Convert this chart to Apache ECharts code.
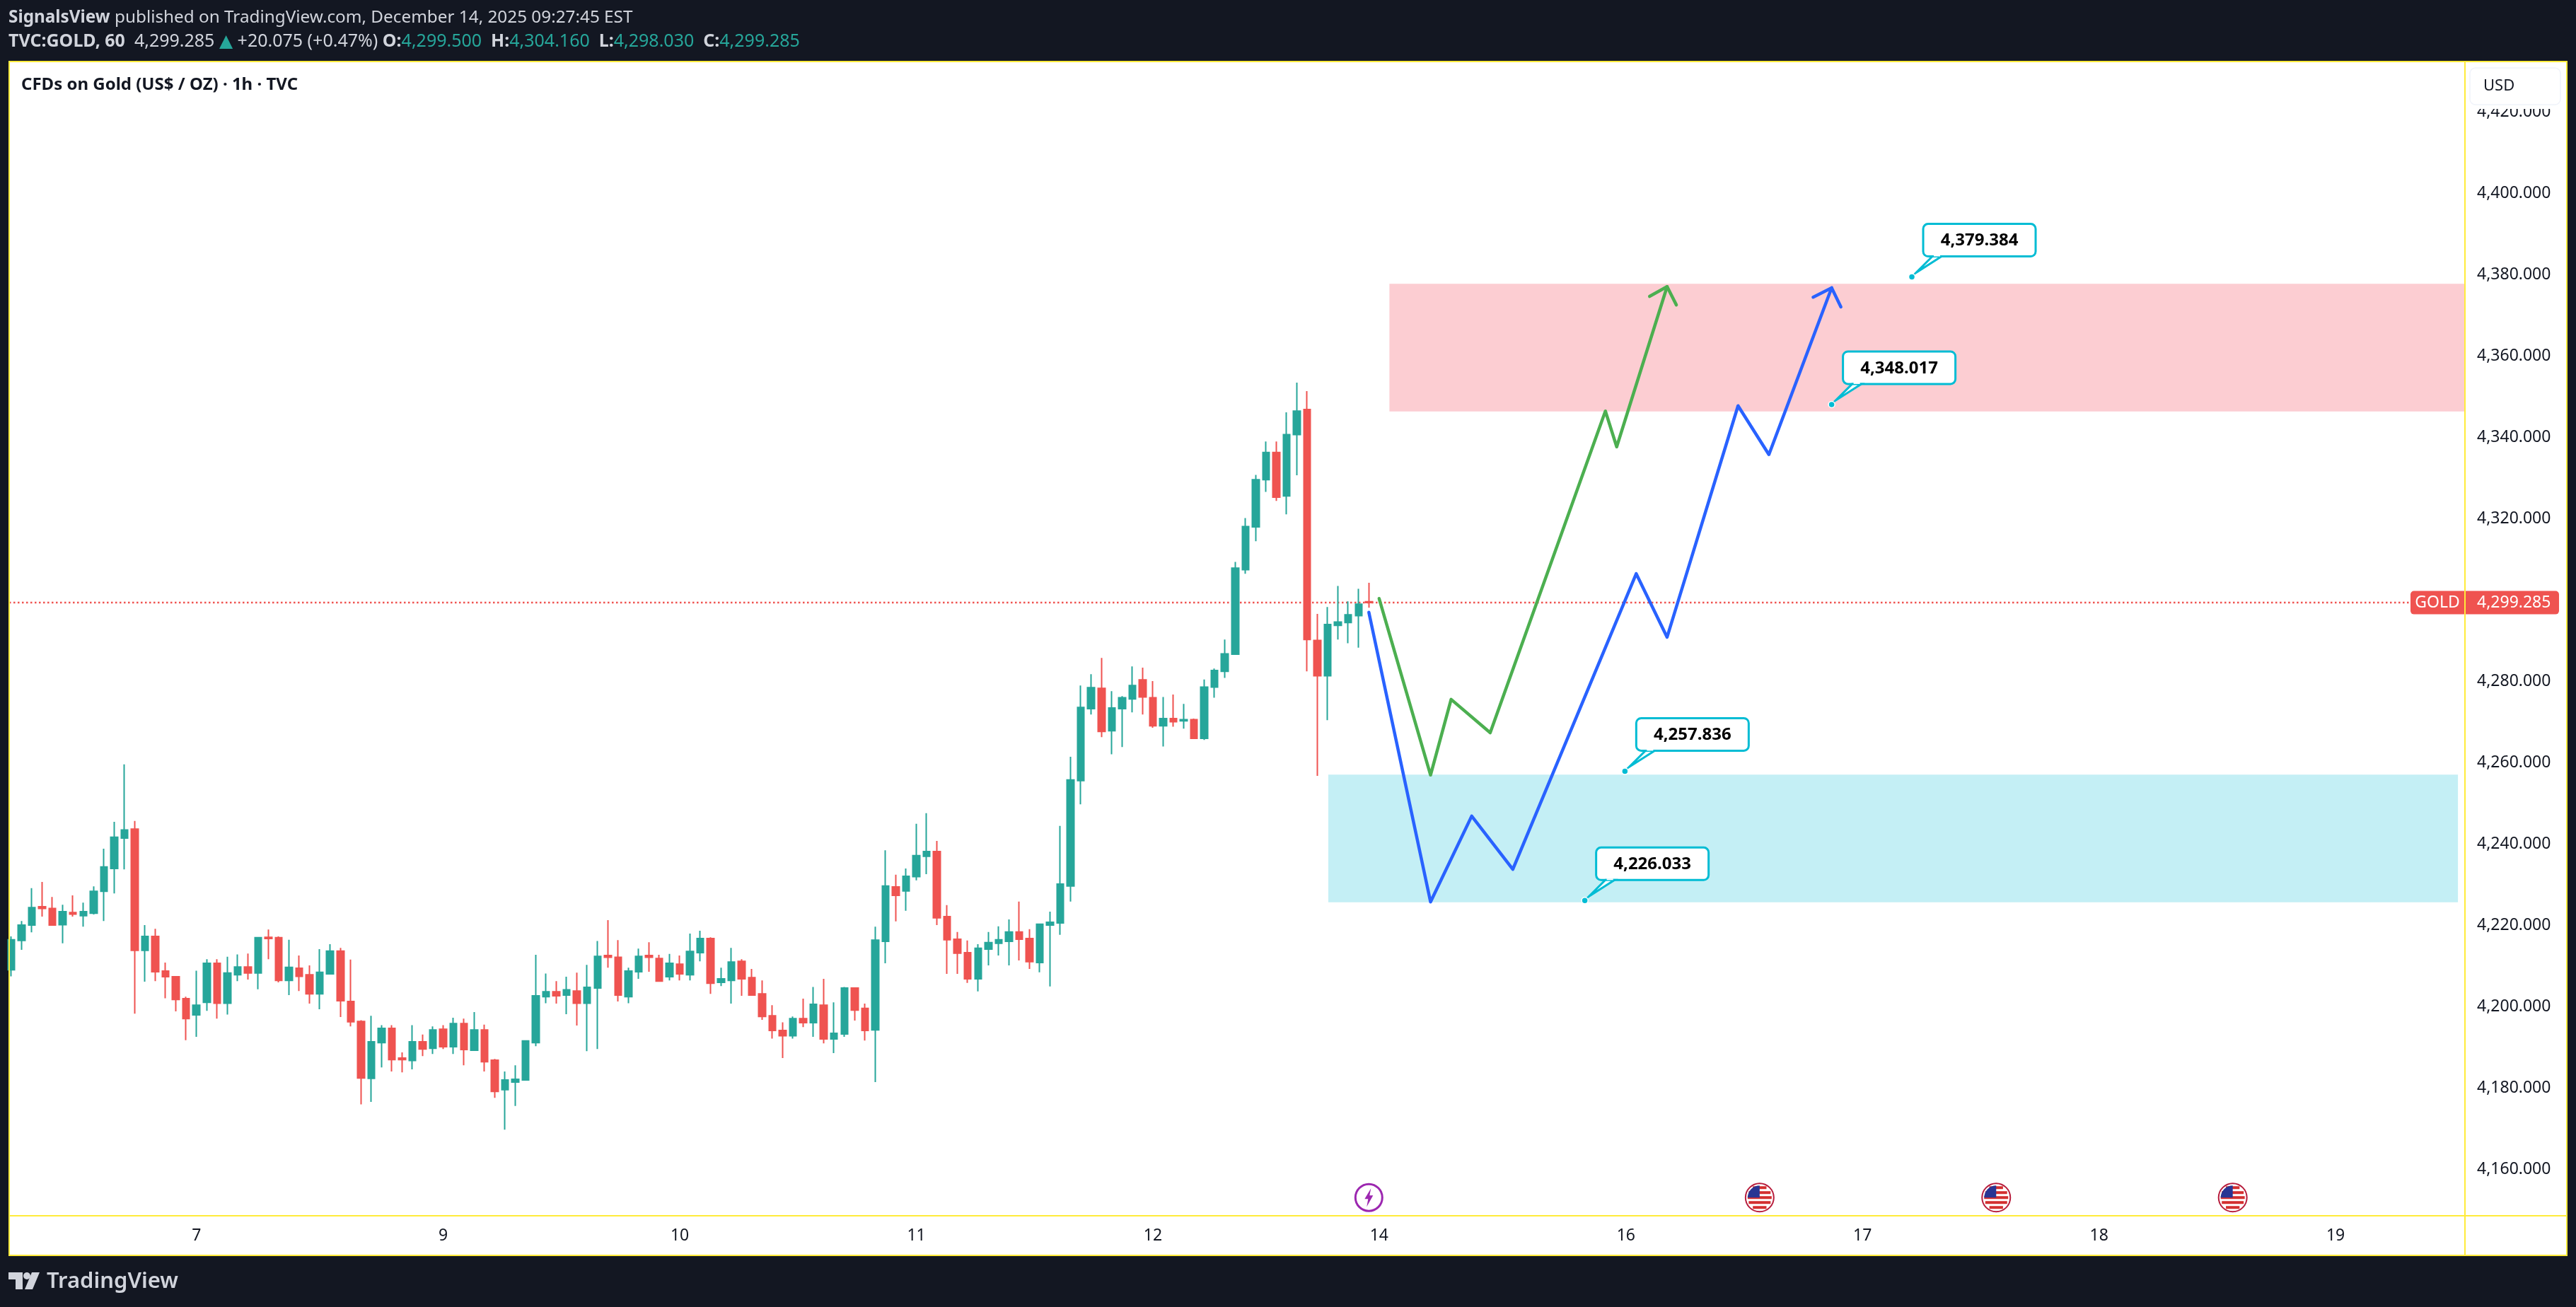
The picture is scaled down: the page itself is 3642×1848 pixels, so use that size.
<!DOCTYPE html>
<html>
<head>
<meta charset="utf-8">
<title>GOLD 1h</title>
<style>
html, body { margin: 0; padding: 0; background: #131722; }
#chart { width: 3642px; height: 1848px; }
</style>
<script src="https://cdn.jsdelivr.net/npm/echarts@6/dist/echarts.min.js"></script>
</head>
<body>
<div id="chart"></div>
<script>
// candles, left to right, one per hour
var opens = [4209.0,4216.2,4220.0,4224.5,4224.1,4220.1,4223.1,4222.3,4222.9,4228.3,4233.9,4241.4,4243.6,4213.8,4217.2,4208.7,4207.3,4201.9,4197.9,4201.0,
    4210.6,4200.8,4207.8,4209.7,4208.2,4217.0,4216.9,4206.4,4209.4,4207.8,4203.1,4208.0,4213.6,4201.2,4196.3,4182.3,4191.1,4194.6,4187.3,4186.7,
    4191.3,4189.7,4194.4,4190.1,4195.8,4189.2,4194.2,4186.8,4179.5,4181.4,4181.9,4191.1,4202.4,4203.6,4202.8,4203.8,4200.8,4204.5,4212.5,4212.1,
    4202.4,4208.5,4212.5,4211.8,4207.3,4210.4,4207.8,4213.2,4216.7,4205.9,4206.4,4211.1,4207.1,4203.1,4197.7,4194.1,4192.8,4197.0,4196.0,4200.3,
    4192.0,4193.2,4204.5,4199.5,4194.2,4216.0,4229.4,4228.4,4231.9,4236.9,4238.1,4222.1,4216.5,4213.2,4206.8,4214.1,4215.5,4216.0,4218.3,4216.7,
    4210.8,4220.0,4220.5,4229.6,4255.5,4273.2,4278.2,4267.8,4273.2,4275.6,4280.3,4275.9,4269.0,4270.8,4270.2,4270.5,4265.9,4278.5,4282.4,4286.6,
    4307.4,4317.9,4329.5,4336.2,4325.5,4340.6,4346.8,4290.0,4281.3,4293.7,4294.4,4296.1,4299.5];
var highs = [4217.2,4221.0,4229.1,4230.6,4226.9,4225.0,4227.3,4225.5,4229.5,4238.8,4245.4,4259.5,4245.6,4220.0,4219.1,4210.8,4207.4,4202.4,4208.8,4211.6,
    4211.6,4212.2,4212.8,4213.0,4216.9,4218.9,4217.2,4216.4,4212.5,4210.1,4214.1,4215.3,4214.4,4211.5,4196.6,4197.7,4195.4,4195.4,4188.7,4195.4,
    4193.1,4195.1,4195.4,4197.2,4197.0,4198.6,4195.5,4187.1,4184.0,4185.5,4191.6,4212.7,4208.1,4206.2,4207.3,4208.3,4210.2,4216.1,4221.2,4216.3,
    4209.5,4214.2,4215.8,4212.7,4212.9,4212.5,4217.9,4218.6,4217.0,4209.5,4214.4,4211.6,4209.2,4206.4,4200.3,4196.1,4197.5,4201.9,4204.8,4206.8,
    4201.0,4204.8,4204.7,4200.7,4219.6,4238.4,4232.4,4233.9,4244.9,4247.5,4240.7,4224.9,4218.3,4216.2,4215.3,4218.3,4219.7,4221.4,4225.8,4219.0,
    4220.4,4223.3,4244.4,4261.4,4278.9,4281.7,4285.7,4277.5,4276.3,4283.6,4283.3,4280.0,4276.1,4276.7,4274.4,4270.8,4280.4,4283.1,4290.2,4309.3,
    4320.1,4330.7,4338.9,4338.9,4346.1,4353.4,4351.3,4296.5,4298.2,4303.4,4299.6,4302.7,4304.16];
var lows = [4207.4,4213.9,4218.2,4222.1,4220.0,4215.5,4222.1,4219.6,4222.6,4221.0,4227.8,4233.7,4198.2,4206.1,4206.2,4202.0,4198.8,4191.7,4192.5,4198.9,
    4197.0,4198.0,4206.2,4206.6,4204.2,4211.6,4205.9,4202.8,4203.8,4200.7,4199.3,4208.0,4197.4,4195.1,4175.9,4176.5,4185.0,4184.0,4183.8,4184.5,
    4187.8,4188.3,4189.5,4188.3,4185.5,4189.2,4184.0,4177.5,4169.7,4175.5,4181.9,4190.2,4200.8,4200.7,4198.1,4195.3,4189.0,4189.5,4209.5,4201.2,
    4200.8,4206.8,4208.5,4206.2,4206.4,4206.4,4206.4,4211.1,4203.1,4205.0,4200.7,4202.6,4202.8,4196.7,4192.1,4187.3,4192.1,4194.9,4192.5,4190.9,
    4188.5,4192.5,4196.5,4191.6,4181.4,4210.6,4220.9,4223.5,4231.0,4232.5,4220.0,4208.0,4208.0,4205.8,4203.7,4210.1,4212.5,4210.1,4211.3,4209.2,
    4208.4,4204.9,4217.6,4225.8,4249.7,4271.8,4266.2,4262.0,4263.8,4272.3,4271.8,4268.5,4263.9,4268.8,4268.3,4265.9,4265.5,4275.9,4280.8,4286.6,
    4306.4,4314.4,4326.5,4324.3,4321.0,4330.6,4282.4,4256.7,4270.4,4290.2,4289.3,4288.2,4298.03];
var closes = [4216.4,4220.0,4224.3,4224.1,4220.0,4223.3,4222.7,4223.3,4228.3,4234.3,4241.6,4243.4,4213.8,4217.2,4208.5,4207.3,4201.7,4197.0,4200.3,4210.6,
    4200.8,4208.2,4209.7,4208.2,4216.9,4216.7,4206.4,4209.6,4207.4,4203.1,4208.4,4213.6,4201.4,4196.2,4182.4,4191.3,4194.6,4186.9,4186.9,4191.3,
    4189.5,4194.2,4190.1,4195.8,4189.4,4194.2,4186.4,4179.1,4181.9,4182.1,4191.5,4202.6,4203.6,4202.6,4204.1,4200.8,4204.7,4212.3,4212.1,4202.8,
    4208.7,4212.3,4212.1,4206.2,4210.6,4208.0,4213.5,4216.7,4205.7,4206.8,4210.9,4206.8,4202.8,4197.5,4194.1,4192.8,4197.0,4196.0,4200.5,4192.0,
    4193.4,4204.5,4199.1,4194.1,4216.3,4229.6,4227.3,4232.0,4237.1,4238.1,4221.8,4216.4,4213.1,4206.8,4214.3,4215.7,4216.4,4218.3,4216.5,4211.0,
    4220.2,4220.7,4230.1,4255.7,4273.5,4278.4,4267.6,4273.4,4275.9,4278.9,4276.1,4269.0,4270.8,4270.0,4270.5,4265.9,4278.5,4282.6,4286.7,4307.8,
    4318.0,4329.5,4336.2,4325.2,4340.6,4346.4,4290.2,4281.3,4293.9,4294.5,4296.3,4298.9,4299.285];

// drawn scenarios: bar number and price of every corner
var greenX = [133.0,138.0,140.0,143.8,155.0,156.1,161.0];
var greenY = [4300.3,4256.9,4275.5,4267.3,4346.4,4337.6,4377.0];
var greenHeadX = [159.3,161.0,161.9];
var greenHeadY = [4374.6,4377.0,4372.5];
var blueX = [132.0,138.0,142.0,146.0,158.0,161.0,167.9,170.9,177.0];
var blueY = [4296.9,4225.7,4246.8,4233.7,4306.4,4290.8,4347.7,4335.7,4376.7];
var blueHeadX = [175.2,177.0,177.9];
var blueHeadY = [4374.4,4376.7,4372.0];

// zones: left bar, right bar, top price, bottom price
var sellZone = [134.0,238.58,4377.7,4346.3];
var buyZone = [128.06,237.9,4257.0,4225.6];

var calloutX = [184.8,177.0,156.9,153.0];
var calloutY = [4379.384,4348.017,4257.836,4226.033];
var calloutText = ['4,379.384','4,348.017','4,257.836','4,226.033'];

var lastPrice = 4299.285;
var lastPriceText = '4,299.285';

var priceTicks = [4160,4180,4200,4220,4240,4260,4280,4300,4320,4340,4360,4380,4400,4420];
var dayTicks = [18,42,65,88,111,133,157,180,203,226];
var dayLabels = ['7','9','10','11','12','14','16','17','18','19'];

var eventX = [132,170,193,216];
var eventKind = ['split','us','us','us'];
var eventY = 4153;

var xMin = -0.206, xMax = 238.58;
var yMin = 4148.52, yMax = 4432;

var FONT = '"Noto Sans", sans-serif';
var INK = '#131722';
var YELLOW = '#ffeb3b';
var UP = '#26a69a';
var DOWN = '#ef5350';
var CYAN = '#00bcd4';

function zip(a, b) {
    var out = [];
    for (var i = 0; i < a.length; i++) out.push([a[i], b[i]]);
    return out;
}

var candleData = [];
for (var i = 0; i < opens.length; i++) {
    candleData.push([i, opens[i], closes[i], lows[i], highs[i]]);
}

function polyLine(name, data, color, z) {
    return {
        name: name,
        type: 'line',
        data: data,
        symbol: 'none',
        z: z,
        silent: true,
        animation: false,
        lineStyle: { color: color, width: 4.5, cap: 'round', join: 'round' }
    };
}

function renderZone(params, api) {
    var a = api.coord([api.value(0), api.value(2)]);
    var b = api.coord([api.value(1), api.value(3)]);
    return {
        type: 'rect',
        shape: { x: a[0], y: a[1], width: b[0] - a[0], height: b[1] - a[1] },
        style: { fill: api.value(4) == 1 ? '#fccdd2' : '#c4eff5' }
    };
}

function renderCallout(params, api) {
    var p = api.coord([api.value(0), api.value(1)]);
    var x = p[0], y = p[1];
    return {
        type: 'group',
        children: [{
            type: 'rect',
            shape: { x: x + 16, y: y - 75, width: 159, height: 46, r: 7 },
            style: { fill: '#fff', stroke: CYAN, lineWidth: 3 }
        }, {
            type: 'polygon',
            shape: { points: [[x + 29, y - 29], [x + 6, y - 6], [x + 42, y - 29]] },
            style: { fill: '#fff', stroke: CYAN, lineWidth: 3 }
        }, {
            type: 'rect',
            shape: { x: x + 31, y: y - 31, width: 9, height: 2 },
            style: { fill: '#fff' }
        }, {
            type: 'text',
            style: {
                x: x + 95.5, y: y - 51, text: calloutText[params.dataIndex],
                fill: '#000', font: 'bold 24px ' + FONT, align: 'center', verticalAlign: 'middle'
            }
        }, {
            type: 'circle',
            shape: { cx: x, cy: y, r: 4.5 },
            style: { fill: CYAN, stroke: '#fff', lineWidth: 1.5 }
        }]
    };
}

function renderPriceTag(params, api) {
    var p = api.coord([xMax, api.value(0)]);
    var y = p[1];
    return {
        type: 'group',
        children: [{
            type: 'rect',
            shape: { x: p[0] - 77, y: y - 16.5, width: 210, height: 33, r: 5 },
            style: { fill: DOWN }
        }, {
            type: 'text',
            style: { x: p[0] - 39, y: y, text: 'GOLD', fill: '#fff', font: '23px ' + FONT, align: 'center', verticalAlign: 'middle' }
        }, {
            type: 'text',
            style: { x: p[0] + 17, y: y, text: lastPriceText, fill: '#fff', font: '23px ' + FONT, align: 'left', verticalAlign: 'middle' }
        }]
    };
}

function renderEvent(params, api) {
    var p = api.coord([api.value(0), api.value(1)]);
    var cx = p[0], cy = p[1], r = 17;
    var kids = [];
    if (eventKind[params.dataIndex] == 'split') {
        kids.push({ type: 'circle', shape: { cx: cx, cy: cy, r: 19 }, style: { fill: '#fff', stroke: '#9c27b0', lineWidth: 3 } });
        kids.push({
            type: 'polygon',
            shape: { points: [[cx + 3, cy - 13], [cx - 6, cy + 2], [cx - 1, cy + 2], [cx - 3, cy + 13], [cx + 6, cy - 3], [cx + 1, cy - 3]] },
            style: { fill: '#9c27b0' }
        });
    } else {
        kids.push({ type: 'circle', shape: { cx: cx, cy: cy, r: 20 }, style: { fill: '#fff', stroke: '#b71c3c', lineWidth: 2 } });
        var stripes = [-14, -7, 0, 7, 14];
        for (var s = 0; s < stripes.length; s++) {
            var half = Math.sqrt(r * r - stripes[s] * stripes[s]);
            kids.push({
                type: 'rect',
                shape: { x: cx - half, y: cy + stripes[s] - 2, width: half * 2, height: 4 },
                style: { fill: '#d32f2f' }
            });
        }
        kids.push({
            type: 'sector',
            shape: { cx: cx, cy: cy, r: r, startAngle: Math.PI, endAngle: Math.PI * 1.5 },
            style: { fill: '#283593' }
        });
    }
    return { type: 'group', children: kids };
}

function frameLine(x1, y1, x2, y2) {
    return {
        type: 'line', z: 100, silent: true,
        shape: { x1: x1, y1: y1, x2: x2, y2: y2 },
        style: { stroke: YELLOW, lineWidth: 2 }
    };
}

var logoColor = '#d1d4dc';

var option = {
    animation: false,
    backgroundColor: '#131722',
    grid: { left: 13, right: 157, top: 89, bottom: 129, containLabel: false },
    xAxis: {
        type: 'value',
        min: xMin,
        max: xMax,
        splitLine: { show: false },
        axisLine: { show: false },
        axisTick: { show: false },
        axisLabel: {
            customValues: dayTicks,
            margin: 28,
            verticalAlign: 'middle',
            color: INK,
            fontFamily: FONT,
            fontSize: 23,
            formatter: function (value) {
                return dayLabels[dayTicks.indexOf(value)];
            }
        }
    },
    yAxis: {
        type: 'value',
        position: 'right',
        min: yMin,
        max: yMax,
        splitLine: { show: false },
        axisLine: { show: false },
        axisTick: { show: false },
        axisLabel: {
            customValues: priceTicks,
            margin: 17,
            align: 'left',
            color: INK,
            fontFamily: FONT,
            fontSize: 23,
            padding: [3, 0, 0, 0],
            formatter: function (value) {
                return value.toLocaleString('en-US', { minimumFractionDigits: 3 });
            }
        }
    },
    series: [{
        name: 'zones',
        type: 'custom',
        renderItem: renderZone,
        z: 1,
        silent: true,
        encode: { x: [0, 1], y: [2, 3] },
        data: [sellZone.concat(1), buyZone.concat(0)]
    }, {
        name: 'last price',
        type: 'line',
        data: [[xMin, lastPrice], [xMax, lastPrice]],
        symbol: 'none',
        z: 1,
        silent: true,
        lineStyle: { color: DOWN, width: 2.5, type: [2.5, 3.5] }
    }, {
        name: 'GOLD',
        type: 'candlestick',
        z: 3,
        barWidth: 10,
        silent: true,
        data: candleData,
        itemStyle: { color: UP, color0: DOWN, borderColor: UP, borderColor0: DOWN, borderWidth: 2 }
    },
    polyLine('green', zip(greenX, greenY), '#4caf50', 4),
    polyLine('green head', zip(greenHeadX, greenHeadY), '#4caf50', 4),
    polyLine('blue', zip(blueX, blueY), '#2962ff', 4),
    polyLine('blue head', zip(blueHeadX, blueHeadY), '#2962ff', 4),
    {
        name: 'callouts',
        type: 'custom',
        renderItem: renderCallout,
        z: 5,
        silent: true,
        encode: { x: 0, y: 1 },
        data: zip(calloutX, calloutY)
    }, {
        name: 'events',
        type: 'custom',
        renderItem: renderEvent,
        z: 5,
        silent: true,
        encode: { x: 0, y: 1 },
        data: eventX.map(function (x) { return [x, eventY]; })
    }, {
        name: 'price tag',
        type: 'custom',
        renderItem: renderPriceTag,
        z: 60,
        silent: true,
        encode: { y: 0 },
        data: [[lastPrice]]
    }],
    graphic: [{
        type: 'rect', z: -1, silent: true,
        shape: { x: 12, y: 87, width: 3617, height: 1688 },
        style: { fill: '#fff' }
    },
    frameLine(12, 87, 3630, 87),
    frameLine(13, 87, 13, 1776),
    frameLine(3629, 87, 3629, 1776),
    frameLine(3485, 87, 3485, 1775),
    frameLine(12, 1719, 3630, 1719),
    frameLine(12, 1775, 3630, 1775),
    {
        // the currency box hides the top of the highest tick label
        type: 'rect', z: 49, silent: true,
        shape: { x: 3487, y: 89, width: 141, height: 65 },
        style: { fill: '#fff' }
    }, {
        type: 'rect', z: 50, silent: true,
        shape: { x: 3492, y: 96, width: 128, height: 52, r: 8 },
        style: { fill: '#fff', stroke: '#f0f3fa', lineWidth: 1.5 }
    }, {
        type: 'text', z: 51, silent: true,
        style: { x: 3511, y: 122, text: 'USD', fill: INK, font: '22px ' + FONT, verticalAlign: 'middle' }
    }, {
        type: 'text', z: 51, silent: true,
        style: {
            x: 12, y: 25, verticalAlign: 'middle', fill: '#d1d4dc', font: '24.3px ' + FONT,
            text: '{b|SignalsView} published on TradingView.com, December 14, 2025 09:27:45 EST',
            rich: { b: { fontWeight: 'bold', fill: '#d1d4dc', fontSize: 24.3, fontFamily: FONT } }
        }
    }, {
        type: 'text', z: 51, silent: true,
        style: {
            x: 12, y: 59, verticalAlign: 'middle', fill: '#d1d4dc', font: '25px ' + FONT,
            text: '{b|TVC:GOLD, 60}  4,299.285 {t|▲} +20.075 (+0.47%) {b|O:}{g|4,299.500}  {b|H:}{g|4,304.160}  {b|L:}{g|4,298.030}  {b|C:}{g|4,299.285}',
            rich: {
                b: { fontWeight: 'bold', fill: '#d1d4dc', fontSize: 25, fontFamily: FONT },
                g: { fill: UP, fontSize: 25, fontFamily: FONT },
                t: { fill: UP, fontSize: 25, fontFamily: '"DejaVu Sans", sans-serif' }
            }
        }
    }, {
        type: 'text', z: 51, silent: true,
        style: { x: 30, y: 120, text: 'CFDs on Gold (US$ / OZ) · 1h · TVC', fill: INK, font: 'bold 24px ' + FONT, verticalAlign: 'middle' }
    }, {
        type: 'polygon', z: 51, silent: true,
        shape: { points: [[12, 1799], [32, 1799], [32, 1823], [22, 1823], [22, 1809], [12, 1809]] },
        style: { fill: logoColor }
    }, {
        type: 'circle', z: 51, silent: true,
        shape: { cx: 38, cy: 1804, r: 5 },
        style: { fill: logoColor }
    }, {
        type: 'polygon', z: 51, silent: true,
        shape: { points: [[45, 1799], [56, 1799], [46, 1823], [35, 1823]] },
        style: { fill: logoColor }
    }, {
        type: 'text', z: 51, silent: true,
        style: { x: 66, y: 1812, text: 'TradingView', fill: logoColor, font: '600 31px ' + FONT, verticalAlign: 'middle' }
    }]
};

var myChart = echarts.init(document.getElementById('chart'), null, { renderer: 'canvas' });
myChart.setOption(option);
</script>
</body>
</html>
